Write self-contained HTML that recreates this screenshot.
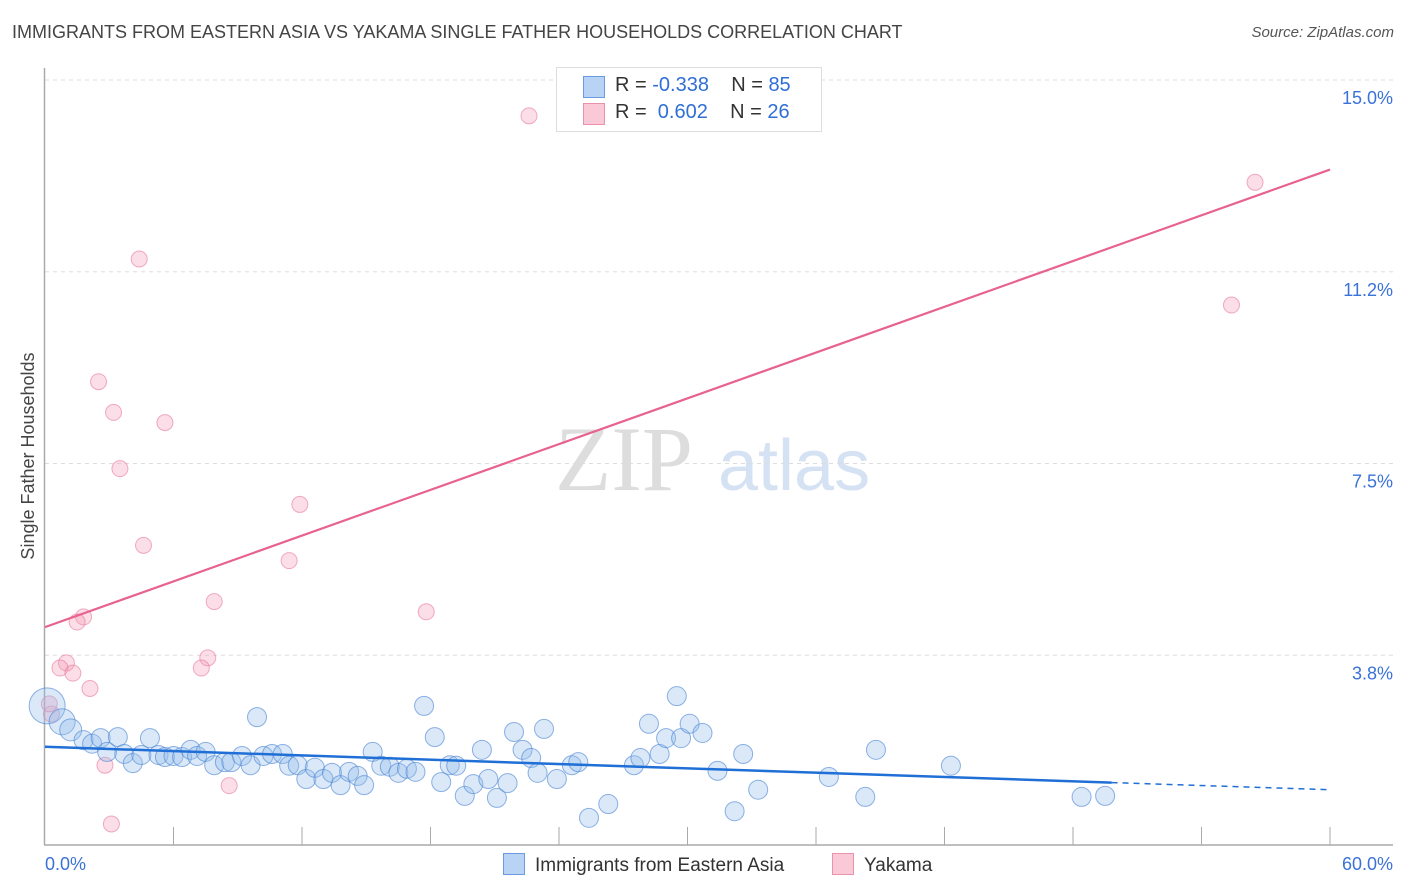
<!DOCTYPE html>
<html><head><meta charset="utf-8"><style>
body{margin:0;background:#fff;font-family:"Liberation Sans",sans-serif;}
#wrap{position:relative;width:1406px;height:892px;overflow:hidden;}
.t{position:absolute;white-space:nowrap;}
</style></head><body>
<div id="wrap">
<div class="t" style="left:12px;top:22px;font-size:18px;color:#444;">IMMIGRANTS FROM EASTERN ASIA VS YAKAMA SINGLE FATHER HOUSEHOLDS CORRELATION CHART</div>
<div class="t" style="right:12px;top:24px;font-size:15px;color:#555;font-style:italic;">Source: ZipAtlas.com</div>
<svg id="svg" width="1406" height="892" style="position:absolute;left:0;top:0"></svg>
</div>
<script>
const blueX=[0.1,0.8,1.2,1.8,2.2,2.6,2.9,3.4,3.7,4.1,4.5,4.9,5.3,5.6,6.0,6.4,6.8,7.1,7.5,7.9,8.4,8.7,9.2,9.6,9.9,10.2,10.6,11.1,11.4,11.8,12.2,12.6,13.0,13.4,13.8,14.2,14.6,14.9,15.3,15.7,16.1,16.5,16.9,17.3,17.7,18.2,18.5,18.9,19.2,19.6,20.0,20.4,20.7,21.1,21.6,21.9,22.3,22.7,23.0,23.3,23.9,24.6,24.9,25.4,26.3,27.5,27.8,28.2,28.7,29.0,29.5,29.7,30.1,30.7,31.4,32.2,32.6,33.3,36.6,38.3,38.8,42.3,48.4,49.5];
const blueY=[2.76,2.45,2.29,2.09,2.02,2.13,1.86,2.15,1.82,1.64,1.80,2.13,1.80,1.76,1.78,1.76,1.90,1.78,1.86,1.60,1.66,1.66,1.78,1.60,2.54,1.78,1.82,1.82,1.59,1.60,1.33,1.55,1.33,1.45,1.21,1.47,1.39,1.21,1.86,1.59,1.57,1.45,1.53,1.47,2.76,2.15,1.27,1.60,1.59,1.00,1.23,1.90,1.33,0.96,1.25,2.25,1.90,1.74,1.45,2.31,1.33,1.60,1.66,0.57,0.84,1.60,1.74,2.41,1.82,2.13,2.95,2.13,2.41,2.23,1.49,0.70,1.82,1.12,1.37,0.98,1.90,1.59,0.98,1.00];
const pinkX=[22.6,56.5,55.4,4.4,2.5,3.2,5.6,3.5,11.9,4.6,11.4,7.9,17.8,1.8,1.5,1.0,0.7,1.3,7.6,7.3,2.1,0.3,0.2,2.8,8.6,3.1];
const pinkY=[14.3,13.0,10.6,11.5,9.1,8.5,8.3,7.4,6.7,5.9,5.6,4.8,4.6,4.5,4.4,3.6,3.5,3.4,3.7,3.5,3.1,2.6,2.8,1.6,1.2,0.45];
const blueTrendX=[0,49.8,60]; const blueTrendY=[1.96,1.26,1.12];
const pinkTrendX=[0,60]; const pinkTrendY=[4.3,13.25];
const yTicks=[15,11.25,7.5,3.75]; const yTickLabels=["15.0%","11.2%","7.5%","3.8%"];
const xTicks=[6,12,18,24,30,36,42,48,54,60];

const X=v=>45+v*(1285/60), Y=v=>847-v*51.13;
const svg=document.getElementById('svg'), NS='http://www.w3.org/2000/svg';
function mk(tag,at,parent){const e=document.createElementNS(NS,tag);for(const k in at)e.setAttribute(k,at[k]);(parent||svg).appendChild(e);return e;}
let w=mk('text',{x:555,y:490,'font-size':92,fill:'#ddd','font-family':'Liberation Serif'});w.textContent='ZIP';


let w2=mk('text',{x:718,y:490,'font-size':72,fill:'#d5e2f3','font-family':'Liberation Sans'});w2.textContent='atlas';


yTicks.forEach((v,i)=>{
 const g=mk('line',{x1:45,x2:1393,y1:Y(v),y2:Y(v),stroke:'#ddd','stroke-dasharray':'4,4'});
 
 
 const t=mk('text',{x:1393,y:Y(v)+24,'text-anchor':'end','font-size':18,fill:'#3a72d8'});t.textContent=yTickLabels[i];
 
 
});
let ax=mk('line',{x1:44.5,x2:44.5,y1:68,y2:845,stroke:'#aaa','stroke-width':1.5});


let bx=mk('line',{x1:44,x2:1393,y1:845,y2:845,stroke:'#aaa','stroke-width':1.5});


xTicks.forEach(v=>{
 const l=mk('line',{x1:X(v),x2:X(v),y1:827,y2:845,stroke:'#aaa'});
 
 
});
let xl0=mk('text',{x:45,y:870,'font-size':18,fill:'#3a72d8'});xl0.textContent='0.0%';


let xl1=mk('text',{x:1393,y:870,'font-size':18,fill:'#3a72d8','text-anchor':'end'});xl1.textContent='60.0%';


let yt=mk('text',{x:34,y:456,'font-size':18,fill:'#444','text-anchor':'middle',transform:'rotate(-90 34 456)'});yt.textContent='Single Father Households';


pinkX.forEach((v,i)=>{
 const c=mk('circle',{cx:X(v),cy:Y(pinkY[i]),r:8,fill:'rgba(244,160,185,0.35)',stroke:'rgba(232,120,155,0.6)'});
 
 
});
blueX.forEach((v,i)=>{
 const c=mk('circle',{cx:X(v),cy:Y(blueY[i]),r:i===0?18:(i===1?13:(i===2?11:9.5)),fill:'rgba(150,190,235,0.35)',stroke:'rgba(70,130,210,0.6)'});
 
 
});
let bl=mk('line',{x1:X(blueTrendX[0]),y1:Y(blueTrendY[0]),x2:X(blueTrendX[1]),y2:Y(blueTrendY[1]),stroke:'#1f6fd6','stroke-width':2.5});


let bd=mk('line',{x1:X(blueTrendX[1]),y1:Y(blueTrendY[1]),x2:X(blueTrendX[2]),y2:Y(blueTrendY[2]),stroke:'#1f6fd6','stroke-width':1.5,'stroke-dasharray':'6,5'});


let pl=mk('line',{x1:X(pinkTrendX[0]),y1:Y(pinkTrendY[0]),x2:X(pinkTrendX[1]),y2:Y(pinkTrendY[1]),stroke:'#e8628e','stroke-width':2.2});


</script>
<div style="position:absolute;left:556px;top:67px;width:264px;height:63px;border:1px solid #ddd;background:#fff;font-size:20px;color:#333;">
 <div style="position:absolute;left:26px;top:8px;width:20px;height:20px;background:#b9d3f5;border:1px solid #6a9be0;"></div>
 <div style="position:absolute;left:58px;top:6px;">R = <span style="color:#2f6fd6">-0.338</span>&nbsp;&nbsp;&nbsp; N = <span style="color:#2f6fd6">85</span></div>
 <div style="position:absolute;left:26px;top:35px;width:20px;height:20px;background:#f9c9d7;border:1px solid #e991ad;"></div>
 <div style="position:absolute;left:58px;top:33px;">R = &nbsp;<span style="color:#2f6fd6">0.602</span>&nbsp;&nbsp;&nbsp; N = <span style="color:#2f6fd6">26</span></div>
</div>
<div style="position:absolute;left:503px;top:853px;font-size:19px;color:#333;">
 <span style="display:inline-block;width:20px;height:20px;background:#b9d3f5;border:1px solid #6a9be0;vertical-align:-4px;margin-right:10px;"></span>Immigrants from Eastern Asia</div>
<div style="position:absolute;left:832px;top:853px;font-size:19px;color:#333;">
 <span style="display:inline-block;width:20px;height:20px;background:#f9c9d7;border:1px solid #e991ad;vertical-align:-4px;margin-right:10px;"></span>Yakama</div>
</body></html>
